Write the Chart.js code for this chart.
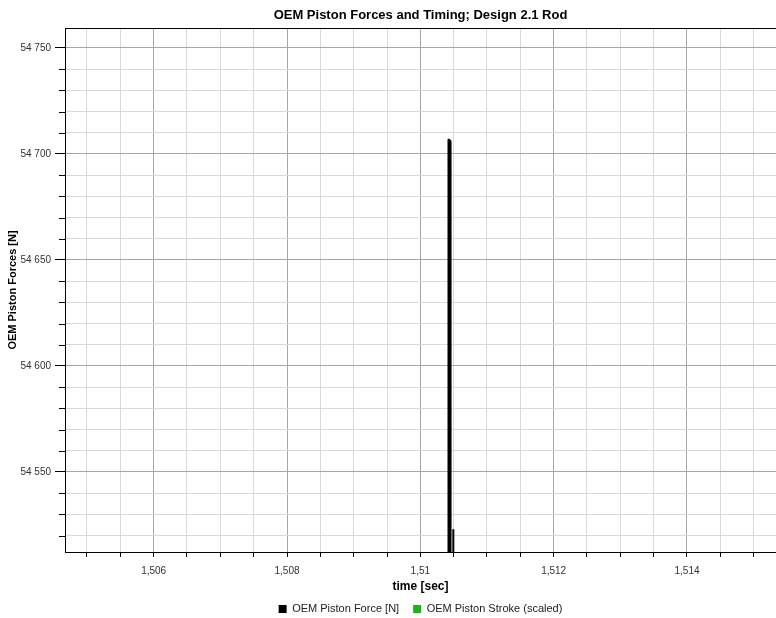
<!DOCTYPE html>
<html>
<head>
<meta charset="utf-8">
<title>OEM Piston Forces and Timing</title>
<script src="https://cdn.jsdelivr.net/npm/chart.js@4.4.1/dist/chart.umd.min.js"></script>
<style>
  html, body { margin: 0; padding: 0; background: #fff; overflow: hidden; }
  #wrap { width: 776px; height: 618px; }
</style>
</head>
<body>
<div id="wrap"><canvas id="forceChart" width="776" height="618"></canvas></div>
<script>
// Piston force trace around the firing peak (time [s], force [N])
var forceTime  = [1.5104220, 1.5104225, 1.5104525, 1.5104530, 1.5104535, 1.510492, 1.510494, 1.510496];
var forceValue = [54000, 54707, 54706, 54637, 54000, 54000, 54523, 54000];

// Stroke trace sits outside this force window, so only its legend entry shows
var strokeTime  = [];
var strokeValue = [];

// Axis window and tick layout
var xRange = [1.50467, 1.515335];
var yRange = [54512.26, 54759.43];
var xLabelTicks = [1.506, 1.508, 1.51, 1.512, 1.514];
var yLabelTicks = [54550, 54600, 54650, 54700, 54750];
var xMinorStep = 0.0005;
var yMinorStep = 10;

var FONT = "'Liberation Sans', Arial, sans-serif";
var GRID_MAJOR = '#a6a6a6';
var GRID_MINOR = '#d9d9d9';

function toPoints(xs, ys) {
    return xs.map(function(x, i) { return { x: x, y: ys[i] }; });
}

// every minor step inside the range, labels only land on the listed values
function buildTicks(range, step) {
    var ticks = [];
    var start = Math.ceil(range[0] / step - 1e-9);
    for (var i = start; i * step <= range[1] + 1e-12; i++) {
        ticks.push({ value: +(i * step).toFixed(6) });
    }
    return ticks;
}

function isMajor(list, v) {
    return list.some(function(t) { return Math.abs(t - v) < 1e-7; });
}

function fmtForce(v) {
    return String(Math.round(v)).replace(/\B(?=(\d{3})+(?!\d))/g, ' ');
}

function fmtTime(v) {
    return String(+v.toFixed(4)).replace('.', ',');
}

// top frame line and the short minor tick marks on the force axis
var framePlugin = {
    id: 'frame',
    afterDraw: function(chart) {
        var ctx = chart.ctx;
        var area = chart.chartArea;
        var y = chart.scales.y;
        ctx.save();
        ctx.strokeStyle = '#000';
        ctx.lineWidth = 1;
        ctx.beginPath();
        ctx.moveTo(area.left, Math.round(area.top) + 0.5);
        ctx.lineTo(area.right, Math.round(area.top) + 0.5);
        y.ticks.forEach(function(t) {
            if (isMajor(yLabelTicks, t.value)) return;
            var py = Math.round(y.getPixelForValue(t.value)) + 0.5;
            ctx.moveTo(area.left - 6, py);
            ctx.lineTo(area.left, py);
        });
        ctx.stroke();
        ctx.restore();
    }
};

var legendLabels = function(chart) {
    return Chart.defaults.plugins.legend.labels.generateLabels(chart).map(function(l) {
        l.lineWidth = 0;
        return l;
    });
};

new Chart(document.getElementById('forceChart'), {
    type: 'line',
    data: {
        datasets: [{
            label: 'OEM Piston Force [N]',
            data: toPoints(forceTime, forceValue),
            borderColor: '#000',
            backgroundColor: '#000',
            borderWidth: 2,
            borderJoinStyle: 'bevel',
            pointRadius: 0,
            tension: 0
        }, {
            label: 'OEM Piston Stroke (scaled)',
            data: toPoints(strokeTime, strokeValue),
            borderColor: '#1fb41f',
            backgroundColor: '#1fb41f',
            borderWidth: 2,
            pointRadius: 0
        }]
    },
    options: {
        responsive: false,
        animation: false,
        devicePixelRatio: 1,
        layout: { padding: { left: 0, right: 0, top: 0, bottom: -6.5 } },
        plugins: {
            title: {
                display: true,
                fullSize: false,
                text: 'OEM Piston Forces and Timing; Design 2.1 Rod',
                color: '#000',
                font: { family: FONT, size: 13, weight: 'bold' },
                padding: { top: 8, bottom: 4.4 }
            },
            legend: {
                position: 'bottom',
                fullSize: false,
                labels: {
                    boxWidth: 8,
                    boxHeight: 8,
                    padding: 14,
                    color: '#222',
                    font: { family: FONT, size: 11 },
                    generateLabels: legendLabels
                }
            },
            tooltip: { enabled: false }
        },
        scales: {
            x: {
                type: 'linear',
                min: xRange[0],
                max: xRange[1],
                afterBuildTicks: function(scale) { scale.ticks = buildTicks(xRange, xMinorStep); },
                afterFit: function(scale) { scale.height = 37.5; },
                ticks: {
                    autoSkip: false,
                    maxRotation: 0,
                    padding: 8,
                    color: '#333',
                    font: { family: FONT, size: 10 },
                    callback: function(v) { return isMajor(xLabelTicks, v) ? fmtTime(v) : ''; }
                },
                grid: {
                    tickLength: 5,
                    tickColor: '#000',
                    color: function(c) { return c.tick && isMajor(xLabelTicks, c.tick.value) ? GRID_MAJOR : GRID_MINOR; }
                },
                border: { display: true, color: '#000', width: 1 },
                title: {
                    display: true,
                    text: 'time [sec]',
                    color: '#000',
                    font: { family: FONT, size: 12, weight: 'bold' },
                    padding: { top: 0, bottom: -4.7 }
                }
            },
            y: {
                type: 'linear',
                min: yRange[0],
                max: yRange[1],
                afterBuildTicks: function(scale) { scale.ticks = buildTicks(yRange, yMinorStep); },
                afterFit: function(scale) { scale.width = 65; },
                ticks: {
                    autoSkip: false,
                    padding: 4,
                    color: '#333',
                    font: { family: FONT, size: 10 },
                    callback: function(v) { return isMajor(yLabelTicks, v) ? fmtForce(v) : ''; }
                },
                grid: {
                    tickLength: 10,
                    tickColor: function(c) { return c.tick && isMajor(yLabelTicks, c.tick.value) ? '#000' : 'rgba(0,0,0,0)'; },
                    color: function(c) { return c.tick && isMajor(yLabelTicks, c.tick.value) ? GRID_MAJOR : GRID_MINOR; }
                },
                border: { display: true, color: '#000', width: 1 },
                title: {
                    display: true,
                    text: 'OEM Piston Forces [N]',
                    color: '#000',
                    font: { family: FONT, size: 11, weight: 'bold' },
                    padding: { top: 6, bottom: 0 }
                }
            }
        }
    },
    plugins: [framePlugin]
});
</script>
</body>
</html>
